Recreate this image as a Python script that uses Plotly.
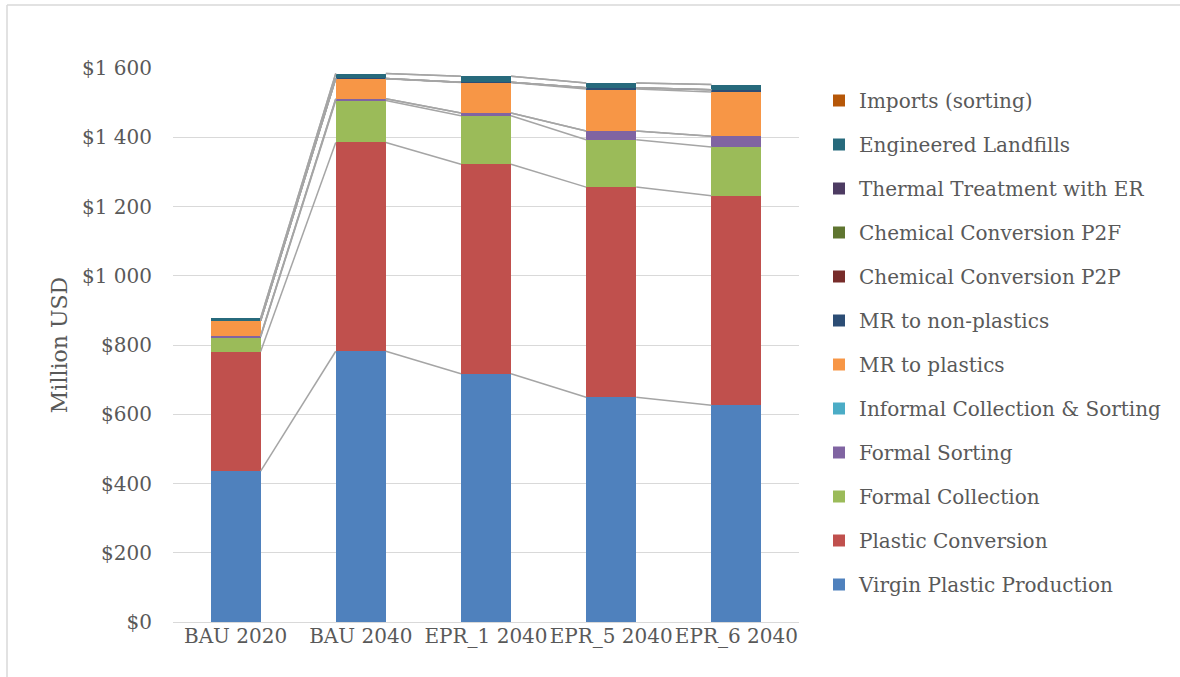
import plotly.graph_objects as go

# scenarios on the x axis
scenarios = ["BAU 2020", "BAU 2040", "EPR_1 2040", "EPR_5 2040", "EPR_6 2040"]

# cost components, million USD (bottom of the stack first)
virgin_plastic = [436, 782, 717, 649, 626]
plastic_conversion = [345, 603, 605, 607, 605]
formal_collection = [42, 121, 140, 137, 141]
formal_sorting = [3, 5, 8, 25, 31]
informal_collection = [0, 0, 0, 0, 0]
mr_plastics = [44, 58, 88, 121, 128]
mr_non_plastics = [0, 1, 1, 4, 6]
chem_p2p = [0, 0, 0, 0, 0]
chem_p2f = [0, 0, 0, 0, 0]
thermal_er = [0, 0, 0, 0, 0]
landfills = [7, 14, 17, 14, 15]
imports_sorting = [0, 0, 0, 0, 0]

series = [
    ("Virgin Plastic Production", virgin_plastic, "#4F81BD"),
    ("Plastic Conversion", plastic_conversion, "#C0504D"),
    ("Formal Collection", formal_collection, "#9BBB59"),
    ("Formal Sorting", formal_sorting, "#8064A2"),
    ("Informal Collection & Sorting", informal_collection, "#4BACC6"),
    ("MR to plastics", mr_plastics, "#F79646"),
    ("MR to non-plastics", mr_non_plastics, "#2C4D75"),
    ("Chemical Conversion P2P", chem_p2p, "#772C2A"),
    ("Chemical Conversion P2F", chem_p2f, "#5F7530"),
    ("Thermal Treatment with ER", thermal_er, "#4D3B62"),
    ("Engineered Landfills", landfills, "#276A7C"),
    ("Imports (sorting)", imports_sorting, "#B65708"),
]

y_ticks = [0, 200, 400, 600, 800, 1000, 1200, 1400, 1600]
y_tick_text = ["$0", "$200", "$400", "$600", "$800", "$1 000", "$1 200", "$1 400", "$1 600"]

FONT = "DejaVu Serif"
GREY = "#595959"
bar_w = 0.4
xs = list(range(len(scenarios)))

fig = go.Figure()

# Excel-style series lines joining the top of each segment between bars
cum = [0] * len(scenarios)
line_x, line_y = [], []
for name, vals, color in series:
    cum = [c + v for c, v in zip(cum, vals)]
    for i in range(len(scenarios) - 1):
        line_x += [i + bar_w / 2, i + 1 - bar_w / 2, None]
        line_y += [cum[i], cum[i + 1], None]
fig.add_trace(go.Scatter(x=line_x, y=line_y, mode="lines",
                         line=dict(color="#A5A5A5", width=1.5),
                         showlegend=False, hoverinfo="skip"))

n = len(series)
for k, (name, vals, color) in enumerate(series):
    fig.add_trace(go.Bar(x=xs, y=vals, name=name, width=bar_w,
                         marker=dict(color=color, line=dict(width=0)),
                         legendgroup=f"g{k}", legendrank=100 * (n - k)))

l, r, t, b = 173, 381, 68, 55
pw, ph = 1180 - l - r, 677 - t - b

fig.update_layout(
    width=1180, height=677,
    barmode="stack",
    plot_bgcolor="white", paper_bgcolor="white",
    margin=dict(l=l, r=r, t=t, b=b),
    font=dict(family=FONT, size=20, color=GREY),
    legend=dict(traceorder="grouped", tracegroupgap=15,
                x=(819 - l) / pw, xanchor="left",
                y=(622 - 81) / ph, yanchor="top",
                font=dict(family=FONT, size=20, color=GREY),
                itemwidth=30),
    xaxis=dict(tickvals=xs, ticktext=scenarios, range=[-0.5, 4.5],
               showgrid=False, ticks="", showline=False, zeroline=False,
               tickfont=dict(family=FONT, size=20, color=GREY)),
    yaxis=dict(range=[0, 1600], tickvals=y_ticks, ticktext=y_tick_text,
               showgrid=True, gridcolor="#D9D9D9", gridwidth=1,
               zeroline=True, zerolinecolor="#D9D9D9", zerolinewidth=1,
               showline=False, ticks="", ticklabelstandoff=20,
               tickfont=dict(family=FONT, size=20, color=GREY),
               title=dict(text="Million USD", standoff=8,
                          font=dict(family=FONT, size=22, color=GREY))),
    shapes=[
        dict(type="line", xref="paper", yref="paper",
             x0=(7 - l) / pw, x1=(1180 - l) / pw,
             y0=(677 - b - 5) / ph, y1=(677 - b - 5) / ph,
             line=dict(color="#D9D9D9", width=1.5)),
        dict(type="line", xref="paper", yref="paper",
             x0=(7 - l) / pw, x1=(7 - l) / pw,
             y0=(677 - b - 5) / ph, y1=-b / ph,
             line=dict(color="#D9D9D9", width=1.5)),
    ],
)

fig.write_html("out.html", config={"displayModeBar": False},
               post_script="document.body.style.margin='0px';")
